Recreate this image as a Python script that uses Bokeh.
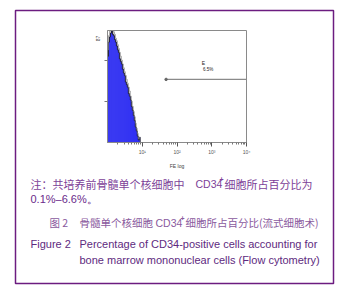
from bokeh.plotting import figure
from bokeh.models import (Label, FixedTicker, BoxAnnotation, Range1d, LogScale,
                          LinearScale, LogAxis, LinearAxis)
from bokeh.embed import file_html
from bokeh.resources import INLINE

# ---- data ----
blue_counts = [67, 78, 82, 85, 87, 84, 83, 80, 78, 75, 72, 70, 65, 63, 61, 57, 54,
               52, 47, 45, 43, 38, 36, 33, 28, 25, 21, 17, 12, 9, 5, 2, 4, 0]
gray_counts = [72, 83, 87, 87, 87, 87, 86, 84, 81, 79, 76, 73, 70, 67, 64, 61, 58,
               55, 52, 49, 46, 43, 40, 36, 32, 28, 24, 20, 15, 11, 7, 3, 4, 0]
channels_per_decade = 35
x_lo, x_hi = 1, 10000
x_ticks = [10, 100, 1000, 10000]
x_tick_labels = ["10¹", "10²", "10³", "10⁴"]
y_max = 87
y_ticks = [32, 64]
gate_start, gate_end, gate_level = 48.5, 10000, 49
gate_name, gate_pct = "E", "6.5%"
x_title = "FE log"

edges = [10 ** (i / channels_per_decade) for i in range(len(blue_counts) + 1)]
lefts, rights = edges[:-1], edges[1:]

W, H = 346, 295
# histogram box placement on the page (pixels)
BX0, BX1, BY0, BY1 = 107, 246, 30, 142
dec_px = (BX1 - BX0) / 4.0
ppc = (BY1 - BY0) / y_max

p = figure(width=W, height=H, output_backend="svg", toolbar_location=None,
           x_range=Range1d(0, W), y_range=Range1d(H, 0),
           x_axis_location=None, y_axis_location=None,
           min_border=0, min_border_left=0, min_border_right=0,
           min_border_top=0, min_border_bottom=0)
p.grid.visible = False
p.outline_line_color = None
p.background_fill_color = "white"

p.extra_x_ranges = {"hx": Range1d(10 ** (-BX0 / dec_px), 10 ** ((W - BX0) / dec_px))}
p.extra_x_scales = {"hx": LogScale()}
p.extra_y_ranges = {"hy": Range1d(-(H - BY1) / ppc, BY1 / ppc)}
p.extra_y_scales = {"hy": LinearScale()}
R = dict(x_range_name="hx", y_range_name="hy")

p.quad(left=lefts, right=rights, bottom=0, top=gray_counts, fill_color="#b8b8b8",
       line_color=None, **R)
p.quad(left=lefts, right=rights, bottom=0, top=blue_counts, fill_color="#0a0aff",
       line_color=None, **R)
p.step(x=edges[:-1], y=blue_counts, mode="after", line_color="#151515",
       line_width=0.8, **R)
p.step(x=edges[:-1], y=gray_counts, mode="after", line_color="#8c8c8c",
       line_width=0.6, **R)

# histogram box
p.quad(left=[x_lo], right=[x_hi], bottom=[0], top=[y_max], fill_color=None,
       line_color="#8a8a8a", line_width=1, **R)

# gate marker
p.segment(x0=[gate_start], y0=[gate_level], x1=[gate_end], y1=[gate_level],
          line_color="#8a8a8a", line_width=1.2, **R)
p.scatter(x=[gate_start], y=[gate_level], size=2.5, color="#666666", **R)
p.add_layout(Label(x=518, y=62, text=gate_name, text_font_size="5px",
                   text_color="#222222", text_baseline="middle", **R))
p.add_layout(Label(x=560, y=57, text=gate_pct, text_font_size="4.5px",
                   text_color="#222222", text_baseline="middle", **R))

# axes
xa = LogAxis(fixed_location=0, bounds=(x_lo, x_hi), **R)
xa.ticker = FixedTicker(ticks=x_ticks,
                        minor_ticks=[k * 10 ** d for d in range(0, 4) for k in range(2, 10)])
xa.major_label_overrides = dict(zip(x_ticks, x_tick_labels))
xa.major_label_text_font_size = "5px"
xa.major_label_text_color = "#555555"
xa.axis_line_color = "#8a8a8a"
xa.major_tick_line_color = "#555555"
xa.minor_tick_line_color = "#777777"
xa.major_tick_out = 4
xa.major_tick_in = 0
xa.minor_tick_out = 2
xa.minor_tick_in = 0
xa.major_label_standoff = 2
xa.axis_label = x_title
xa.axis_label_text_font_size = "5px"
xa.axis_label_text_font_style = "normal"
xa.axis_label_text_color = "#444444"
xa.axis_label_standoff = 5
p.add_layout(xa, "below")

ya = LinearAxis(fixed_location=x_lo, bounds=(0, y_max), **R)
ya.ticker = FixedTicker(ticks=y_ticks, minor_ticks=[])
ya.major_label_overrides = {t: "" for t in y_ticks}
ya.axis_line_color = "#8a8a8a"
ya.major_tick_line_color = "#777777"
ya.major_tick_out = 3
ya.major_tick_in = 0
p.add_layout(ya, "left")

p.add_layout(Label(x=97, y=38, text=str(y_max), text_font_size="5px", angle=1.5708,
                   text_align="center", text_baseline="middle", text_color="#444444"))

# outer frame
p.add_layout(BoxAnnotation(left=15, right=333, top=10, bottom=283,
                           fill_color=None, fill_alpha=0, line_color="#6c1c80",
                           line_alpha=1.0, line_width=1.5))

CJK = "Noto Sans CJK SC"
LAT = "Liberation Sans"

def lab(x, y, t, font, size, color, bold=False):
    p.add_layout(Label(x=x, y=y, text=t, text_font=font, text_font_size=size,
                       text_color=color, text_baseline="middle", text_align="left",
                       text_font_style="bold" if bold else "normal"))

c1 = "#7d3f98"
lab(30, 183, "注：共培养前骨髓单个核细胞中", CJK, "11px", c1)
lab(195, 183, "CD34", LAT, "10.5px", c1)
lab(219, 179, "+", LAT, "7px", c1, bold=True)
lab(224, 183, "细胞所占百分比为", CJK, "11px", c1)
lab(30, 198, "0.1%–6.6%。", LAT, "11px", "#6a2a8a")

c3 = "#8a5a9e"
lab(49, 222, "图 2", CJK, "10.5px", c3)
lab(79, 222, "骨髓单个核细胞", CJK, "10.5px", c3)
lab(155, 222, "CD34", LAT, "10.5px", c3)
lab(180, 218, "+", LAT, "7px", c3, bold=True)
lab(185, 222, "细胞所占百分比(流式细胞术)", CJK, "10.5px", c3)

c4 = "#5e2a80"
lab(30, 243, "Figure 2", LAT, "11px", c4)
lab(79, 243, "Percentage of CD34-positive cells accounting for", LAT, "11px", c4)
lab(79, 259, "bone marrow mononuclear cells (Flow cytometry)", LAT, "11px", c4)

open("out.html", "w").write(file_html(p, INLINE))
